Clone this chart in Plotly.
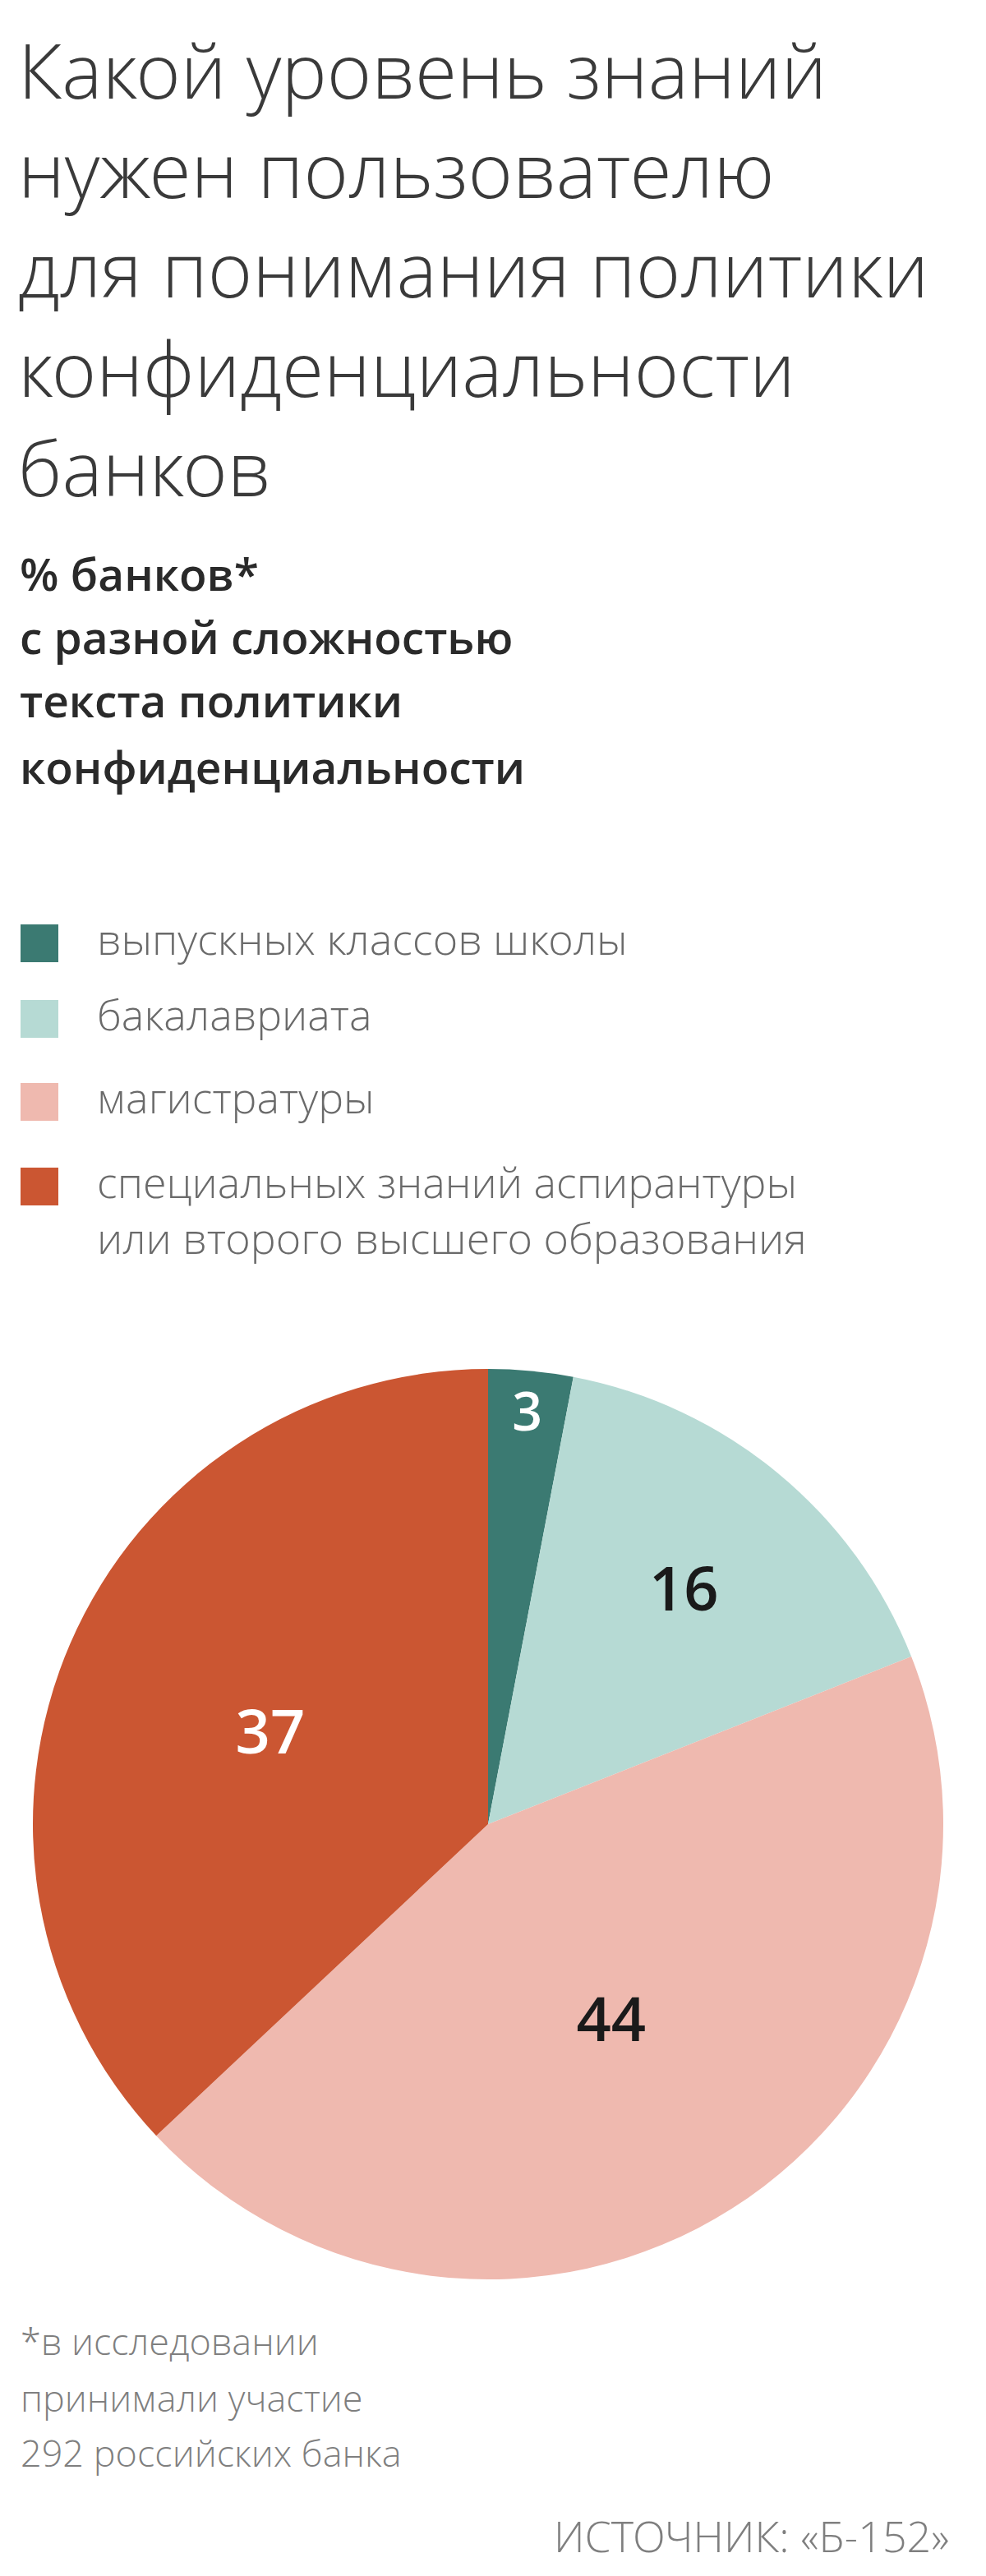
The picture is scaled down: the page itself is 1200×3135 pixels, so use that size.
import plotly.graph_objects as go

# ---- data ----
categories = [
    "выпускных классов школы",
    "бакалавриата",
    "магистратуры",
    "специальных знаний аспирантуры<br>или второго высшего образования",
]
values = [3, 16, 44, 37]
colors = ["#3b7a72", "#b6dad4", "#efb9af", "#cb5632"]
label_colors = ["#ffffff", "#1a1a1a", "#1a1a1a", "#ffffff"]

title_lines = [
    "Какой уровень знаний",
    "нужен пользователю",
    "для понимания политики",
    "конфиденциальности",
    "банков",
]
subtitle_lines = [
    "% банков*",
    "с разной сложностью",
    "текста политики",
    "конфиденциальности",
]
footnote_lines = [
    "*в исследовании",
    "принимали участие",
    "292 российских банка",
]
source_text = "ИСТОЧНИК: «Б-152»"

W, H = 1200, 3135
FONT = "Open Sans"
LIGHT = "Open Sans Light, Open Sans"


def yp(px):
    return 1 - px / H


def xp(px):
    return px / W


fig = go.Figure()

# pie: centre (586, 2212), radius 554 px
cx, cy, r = 586, 2212, 554
fig.add_trace(go.Pie(
    labels=[c.replace("<br>", " ") for c in categories],
    values=values,
    sort=False,
    direction="clockwise",
    rotation=0,
    marker=dict(colors=colors, line=dict(width=0)),
    textinfo="value",
    textposition="inside",
    insidetextorientation="horizontal",
    textfont=dict(family=FONT, size=74, color=label_colors, weight=600),
    domain=dict(x=[xp(cx - r), xp(cx + r)], y=[yp(cy + r), yp(cy - r)]),
    showlegend=False,
    hoverinfo="label+value",
))

annotations = []

# title (light), one block
TF = 93
annotations.append(dict(
    text="<br>".join(title_lines), x=xp(12), y=yp(354 - 0.39 * TF),
    xref="paper", yref="paper", xanchor="left", yanchor="middle",
    showarrow=False, align="left",
    font=dict(family=LIGHT, size=TF, color="#3a3a3a", weight=300),
))

# subtitle (semibold)
sub_base = [711, 788, 865, 946]
SF = 55
for t, b in zip(subtitle_lines, sub_base):
    annotations.append(dict(
        text=t, x=xp(14), y=yp(b - 0.39 * SF), xref="paper", yref="paper",
        xanchor="left", yanchor="middle", showarrow=False,
        font=dict(family=FONT, size=SF, color="#2a2a2a", weight=600),
    ))

# legend (manual squares + labels)
leg_centers = [1140, 1232, 1333, 1436]
LF = 52
shapes = []
for cat, col, c in zip(categories, colors, leg_centers):
    shapes.append(dict(
        type="rect", xref="paper", yref="paper",
        x0=xp(17), x1=xp(63), y0=yp(c + 23), y1=yp(c - 23),
        fillcolor=col, line=dict(width=0),
    ))
    nlines = cat.count("<br>") + 1
    ann = dict(
        text=cat, x=xp(108), y=yp(c - 0.12 * LF), xref="paper", yref="paper",
        xanchor="left", yanchor="middle",
        showarrow=False, align="left",
        font=dict(family=LIGHT, size=LF, color="#6a6a6a", weight=300),
    )
    if nlines > 1:
        ann["y"] = yp(c - 0.12 * LF + 0.65 * LF * (nlines - 1))
    annotations.append(ann)

# footnote
foot_base = [2858, 2927, 2994]
FF = 45
for t, b in zip(footnote_lines, foot_base):
    annotations.append(dict(
        text=t, x=xp(15), y=yp(b - 0.39 * FF), xref="paper", yref="paper",
        xanchor="left", yanchor="middle", showarrow=False,
        font=dict(family=LIGHT, size=FF, color="#7f7f7f", weight=300),
    ))

# source
SRC = 52
annotations.append(dict(
    text=source_text, x=xp(1150), y=yp(3098 - 0.39 * SRC), xref="paper", yref="paper",
    xanchor="right", yanchor="middle", showarrow=False,
    font=dict(family=LIGHT, size=SRC, color="#7f7f7f", weight=300),
))

fig.update_layout(
    width=W, height=H,
    margin=dict(l=0, r=0, t=0, b=0),
    paper_bgcolor="white", plot_bgcolor="white",
    annotations=annotations, shapes=shapes,
    showlegend=False,
)

fig.write_html("out.html")
